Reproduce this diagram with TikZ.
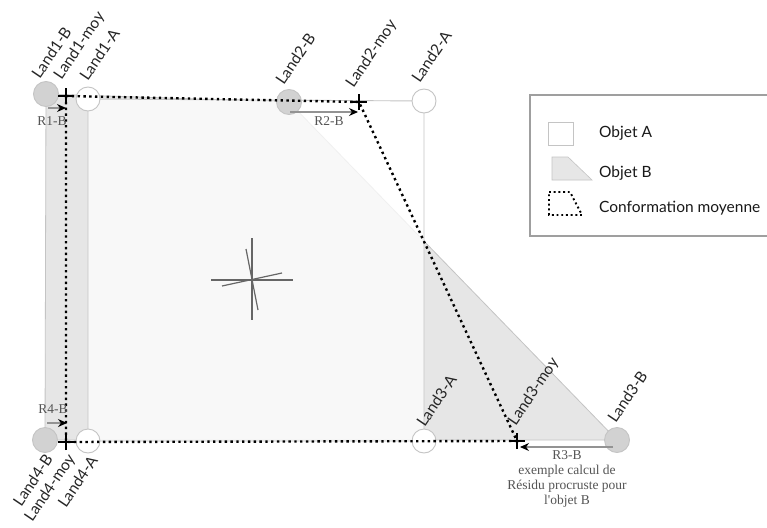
\documentclass[tikz,border=0pt]{standalone}
\usepackage{fontspec}
\setmainfont{Lato}
\newfontfamily\rfont{Liberation Serif}
\usetikzlibrary{arrows.meta}
\definecolor{bfill}{HTML}{E6E6E6}
\definecolor{edgegray}{HTML}{C4C4C4}
\definecolor{circb}{HTML}{D2D2D2}
\definecolor{labgray}{HTML}{555555}
\tikzset{
  lmA/.style={circle,draw=edgegray,fill=white,line width=0.9pt,minimum size=24pt,inner sep=0pt},
  lmB/.style={circle,draw=edgegray,fill=circb,line width=0.9pt,minimum size=25pt,inner sep=0pt},
  meanline/.style={draw=black,line width=2.4pt,dash pattern=on 2.4pt off 3.4pt},
  plusmark/.style={draw=black,line width=1.9pt},
  resid/.style={draw=gray!85,line width=1.1pt,-{Stealth[length=9pt,width=8pt,color=black]}},
  toplab/.style={rotate=56,anchor=south west,inner sep=0pt,font=\fontsize{15.5}{17}\selectfont,text=black!85},
  botlab/.style={rotate=56,anchor=east,inner sep=0pt,font=\fontsize{15.5}{17}\selectfont,text=black!85},
  rlab/.style={inner sep=0pt,font=\rfont\fontsize{13.5}{15}\selectfont,text=labgray,align=center},
  legtext/.style={anchor=base west,inner sep=0pt,font=\fontsize{15.5}{17}\selectfont,text=black!90},
  centre/.style={draw=gray!80!black,line width=1.2pt}
}
\begin{document}
\begin{tikzpicture}[x=1pt,y=-1pt]
\useasboundingbox[fill=white] (0,0) rectangle (767,527);
% landmark coordinates
\coordinate (p1b) at (46,94);   \coordinate (p1m) at (66,96);   \coordinate (p1a) at (88,99);
\coordinate (p2b) at (289,102); \coordinate (p2m) at (359,102); \coordinate (p2a) at (424,101);
\coordinate (p3a) at (424,441); \coordinate (p3m) at (517,441); \coordinate (p3b) at (617,440);
\coordinate (p4b) at (45,440);  \coordinate (p4m) at (66,442);  \coordinate (p4a) at (88,441);
% object B
\fill[bfill] (p1b) -- (p2b) -- (p3b) -- (p4b) -- cycle;
\draw[edgegray,line width=0.8pt] (p1b) -- (p2b) -- (p3b) -- (p4b) -- cycle;
% object A
\fill[white,opacity=0.75] (p1a) -- (p2a) -- (p3a) -- (p4a) -- cycle;
\draw[edgegray,line width=0.9pt] (p1a) -- (p2a) -- (p3a) -- (p4a) -- cycle;
% centre cross
\draw[centre] (211,280) -- (293,280);
\draw[centre] (252,238) -- (252,320);
\draw[centre] (222,286) -- (282,273);
\draw[centre] (246,249) -- (258,310);
% landmark circles
\node[lmB] (l1b) at (p1b) {};
\node[lmB] (l2b) at (p2b) {};
\node[lmB] (l3b) at (p3b) {};
\node[lmB] (l4b) at (p4b) {};
\node[lmA] (l1a) at (p1a) {};
\node[lmA] (l2a) at (p2a) {};
\node[lmA] (l3a) at (p3a) {};
\node[lmA] (l4a) at (p4a) {};
% mean conformation
\draw[meanline] (p1m) -- (p2m) -- (p3m) -- (p4m) -- cycle;
% plus markers
\foreach \m in {p1m,p2m,p3m,p4m}{
  \draw[plusmark] ([xshift=-8pt]\m) -- ([xshift=8pt]\m);
  \draw[plusmark] ([yshift=-8pt]\m) -- ([yshift=8pt]\m);
}
% residual arrows
\draw[resid] ([xshift=2pt,yshift=-14pt]l1b.center) -- ([xshift=0pt,yshift=-12pt]p1m);
\draw[resid] ([xshift=1pt,yshift=-10pt]l2b.center) -- ([xshift=-1pt,yshift=-10pt]p2m);
\draw[resid] ([xshift=-4pt,yshift=-7pt]l3b.center) -- ([xshift=3pt,yshift=-6pt]p3m);
\draw[resid] ([xshift=2pt,yshift=17pt]l4b.center) -- ([xshift=1pt,yshift=19pt]p4m);
% residual labels
\node[rlab] (r1) at (52,121) {R1-B};
\node[rlab] (r2) at (329,121) {R2-B};
\node[rlab] (r4) at (53,409) {R4-B};
\node[rlab,anchor=north] (r3) at (567,450) {R3-B\\exemple calcul de\\Résidu procruste pour\\l'objet B};
% top labels
\node[toplab] (t1b) at (40,80) {Land1-B};
\node[toplab] (t1m) at (64,82) {Land1-moy};
\node[toplab] (t1a) at (88,82) {Land1-A};
\node[toplab] (t2b) at (284,86) {Land2-B};
\node[toplab] (t2m) at (356,90) {Land2-moy};
\node[toplab] (t2a) at (420,84) {Land2-A};
\node[toplab] (t3a) at (425,428) {Land3-A};
\node[toplab] (t3m) at (518,428) {Land3-moy};
\node[toplab] (t3b) at (616,424) {Land3-B};
% bottom labels
\node[botlab] (t4b) at (49,456) {Land4-B};
\node[botlab] (t4m) at (72,456) {Land4-moy};
\node[botlab] (t4a) at (94,457) {Land4-A};
% legend
\draw[gray!75,line width=1.4pt] (790,95) -- (530,95) -- (530,236) -- (790,236);
\node[draw=edgegray,fill=white,line width=0.9pt,minimum width=25pt,minimum height=23pt,inner sep=0pt] (legA) at (560.5,133.5) {};
\filldraw[fill=bfill,draw=edgegray,line width=0.6pt] (552,157) -- (568,157) -- (592,180) -- (552,180) -- cycle;
\draw[draw=black,line width=1.9pt,dash pattern=on 1.9pt off 2.8pt] (549,192) -- (570,192) -- (582,215) -- (549,215) -- cycle;
\node[legtext] (lta) at (599,137) {Objet A};
\node[legtext] (ltb) at (599,177) {Objet B};
\node[legtext] (ltc) at (599,212) {Conformation moyenne};
\end{tikzpicture}
\end{document}
